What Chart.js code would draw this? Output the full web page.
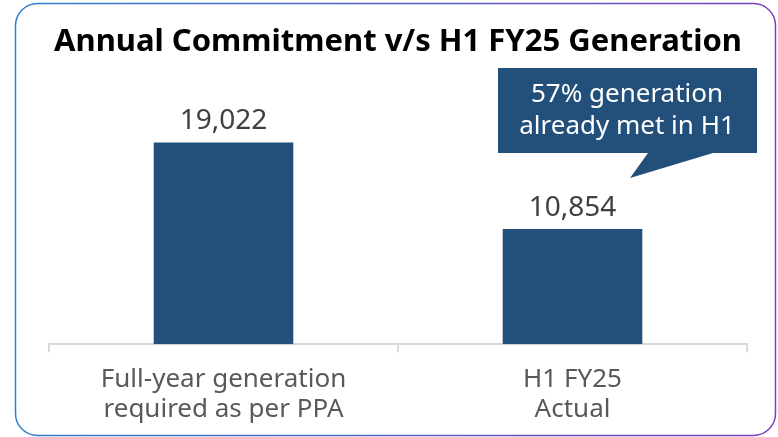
<!DOCTYPE html>
<html><head><meta charset="utf-8">
<script src="https://cdn.jsdelivr.net/npm/chart.js@4.4.1/dist/chart.umd.min.js"></script>
<style>html,body{margin:0;padding:0;background:#fff}canvas{display:block}</style>
</head><body>
<canvas id="c" width="778" height="437"></canvas>
<script>
const categories = [["Full-year generation","required as per PPA"],["H1 FY25","Actual"]];
const values = [19022, 10854];
const valueLabels = ["19,022", "10,854"];
const titleText = "Annual Commitment v/s H1 FY25 Generation";
const calloutLines = ["57% generation", "already met in H1"];

const FONT = "'Noto Sans', 'Open Sans', sans-serif";
const BAR = "#23507a";

const decor = {
  id: "decor",
  beforeDraw(chart) {
    const ctx = chart.ctx;
    ctx.save();
    const g = ctx.createLinearGradient(15, 0, 778, 0);
    g.addColorStop(0, "#2f7fd0");
    g.addColorStop(1, "#7a3fc0");
    ctx.strokeStyle = g;
    ctx.lineWidth = 1.5;
    ctx.beginPath();
    ctx.roundRect(15.5, 3.5, 760, 432, 22);
    ctx.stroke();
    ctx.fillStyle = "#000";
    ctx.font = "bold 31px " + FONT;
    ctx.textAlign = "center";
    ctx.textBaseline = "alphabetic";
    ctx.fillText(titleText, 398, 51);
    ctx.restore();
  },
  afterDatasetsDraw(chart) {
    const ctx = chart.ctx;
    const meta = chart.getDatasetMeta(0);
    ctx.save();
    ctx.fillStyle = "#404040";
    ctx.font = "28px " + FONT;
    ctx.textAlign = "center";
    ctx.textBaseline = "alphabetic";
    meta.data.forEach((bar, i) => {
      ctx.fillText(valueLabels[i], bar.x, bar.y - 13);
    });
    // callout
    ctx.fillStyle = BAR;
    ctx.beginPath();
    ctx.moveTo(498, 68); ctx.lineTo(757, 68); ctx.lineTo(757, 153);
    ctx.lineTo(713, 153); ctx.lineTo(630, 178); ctx.lineTo(648, 153);
    ctx.lineTo(498, 153); ctx.closePath(); ctx.fill();
    ctx.fillStyle = "#fff";
    ctx.font = "26px " + FONT;
    ctx.textBaseline = "middle";
    ctx.fillText(calloutLines[0], 627, 95);
    ctx.fillText(calloutLines[1], 627, 127);
    ctx.restore();
  }
};

new Chart(document.getElementById("c"), {
  type: "bar",
  data: {
    labels: categories,
    datasets: [{ data: values, backgroundColor: BAR, barPercentage: 0.4, categoryPercentage: 1 }]
  },
  options: {
    responsive: false,
    animation: false,
    layout: { padding: { left: 49, right: 31, top: 79, bottom: 0 } },
    plugins: { legend: { display: false }, tooltip: { enabled: false }, title: { display: false } },
    scales: {
      y: { display: false, min: 0, max: 25000 },
      x: {
        grid: { drawOnChartArea: false, color: "#d9d9d9", lineWidth: 2, tickLength: 8 },
        border: { color: "#d9d9d9", width: 2 },
        ticks: { color: "#595959", font: { family: FONT, size: 26, lineHeight: 1.17 }, padding: 12, maxRotation: 0 }
      }
    }
  },
  plugins: [decor]
});
</script>
</body></html>
